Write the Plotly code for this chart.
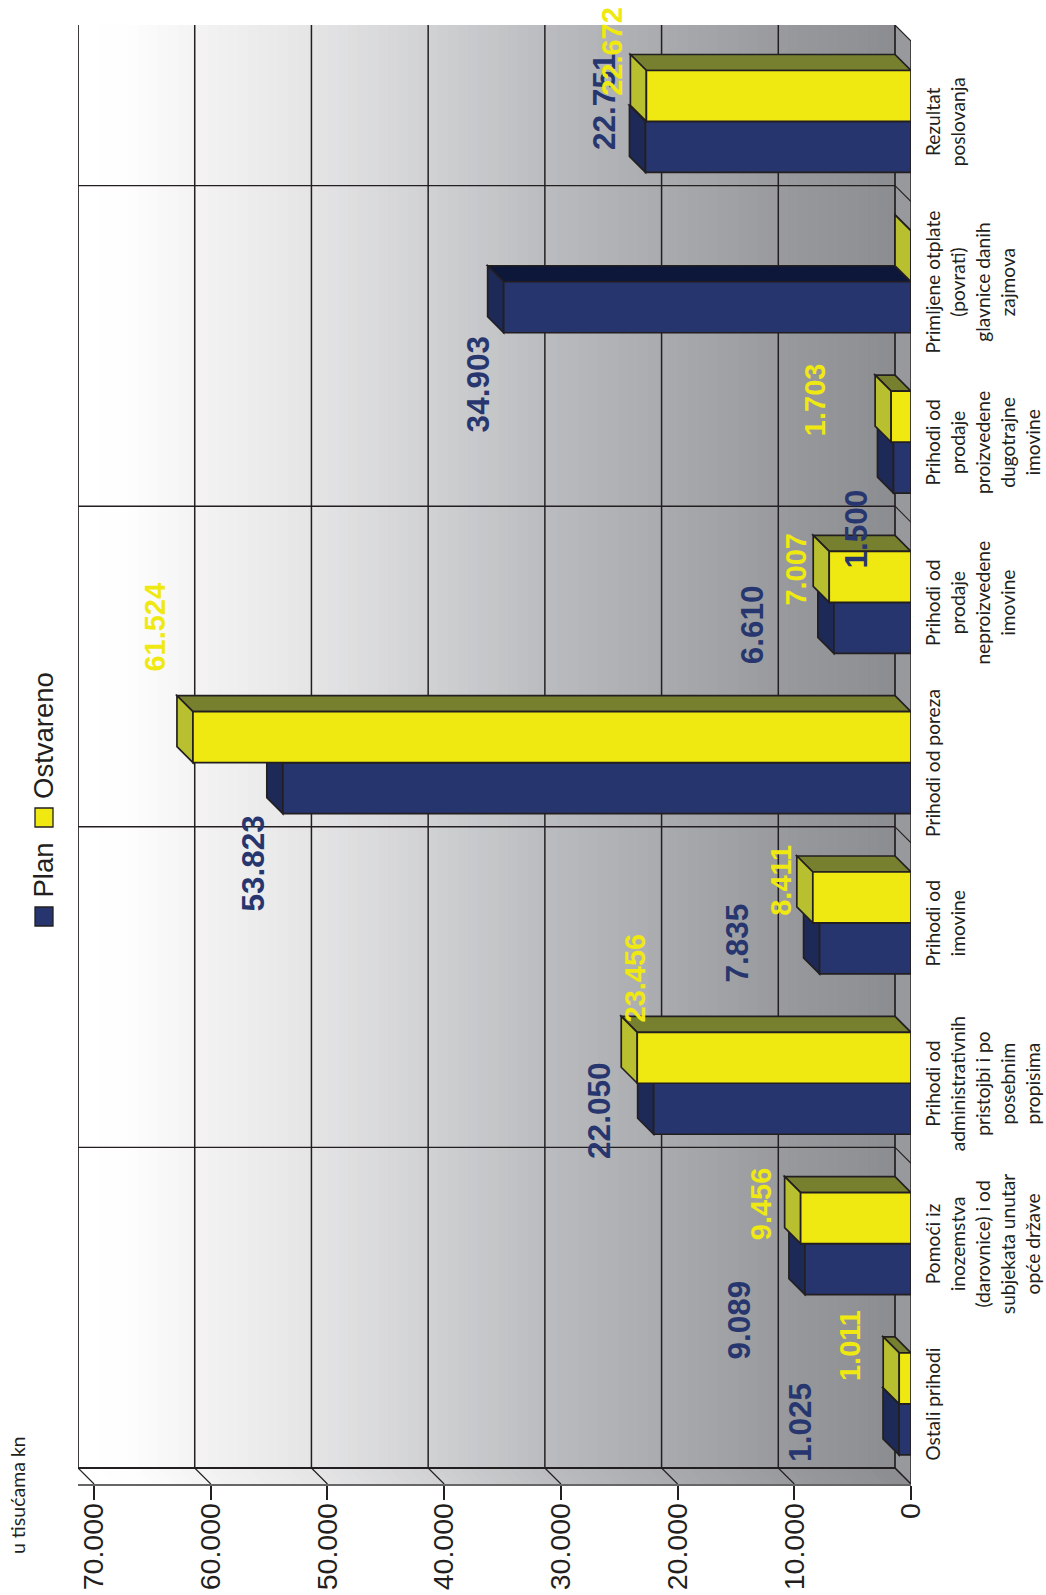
import plotly.graph_objects as go

# ---------- data ----------
categories = [
    "Ostali prihodi",
    "Pomoći iz<br>inozemstva<br>(darovnice) i od<br>subjekata unutar<br>opće države",
    "Prihodi od<br>administrativnih<br>pristojbi i po<br>posebnim<br>propisima",
    "Prihodi od<br>imovine",
    "Prihodi od poreza",
    "Prihodi od<br>prodaje<br>neproizvedene<br>imovine",
    "Prihodi od<br>prodaje<br>proizvedene<br>dugotrajne<br>imovine",
    "Primljene otplate<br>(povrati)<br>glavnice danih<br>zajmova",
    "Rezultat<br>poslovanja",
]
plan = [1025, 9089, 22050, 7835, 53823, 6610, 1500, 34903, 22751]
ostvareno = [1011, 9456, 23456, 8411, 61524, 7007, 1703, 0, 22672]
value_ticks = [0, 10000, 20000, 30000, 40000, 50000, 60000, 70000]

# label offsets from the bar tip, in pixels (labels are hand-placed in the original)
plan_label_dx = [-99, -66, -54, -83, -30, -82, -37, -26, -41]
plan_label_dy = [-19, -76, -28, -20, -101, -22, -87, -103, 20]
ost_label_dx = [-49, -40, -2, -32, -38, -33, -76, None, -34]
ost_label_dy = [58, 40, 105, 43, 136, 33, 42, None, 70]

# ---------- geometry / style ----------
W, H = 1046, 1595
L, R, T, B = 78, 911, 25, 1484
X_MAX = 71373
Y_MIN, Y_MAX = -0.5, 8.6017
DX, DY = 1371, 0.0998
BAR_H = 0.318
INK = "#231f20"
BLUE, BLUE_SIDE, BLUE_TOP = "#26356d", "#1d2a58", "#0c1739"
YEL, YEL_SIDE, YEL_TOP = "#efe911", "#b9c02f", "#76802f"

grad_px = [78, 125, 200, 311, 432, 550, 668, 787, 895]
grad_col = ["#ffffff", "#fefefe", "#f3f3f4", "#e5e5e6", "#d0d1d3", "#babbbe", "#a9aaad", "#98999c", "#8c8d90"]


def hex2rgb(c):
    return tuple(int(c[i:i + 2], 16) for i in (1, 3, 5))


def grad(p):
    for i in range(len(grad_px) - 1):
        if p <= grad_px[i + 1]:
            t = (p - grad_px[i]) / (grad_px[i + 1] - grad_px[i])
            a, b = hex2rgb(grad_col[i]), hex2rgb(grad_col[i + 1])
            return "rgb(%d,%d,%d)" % tuple(round(a[k] + (b[k] - a[k]) * t) for k in range(3))
    return grad_col[-1]


def poly(pts, fill, lw=1.7, layer="between", line=INK):
    d = "M " + " L ".join(f"{x},{y}" for x, y in pts) + " Z"
    return dict(type="path", path=d, xref="x", yref="y", fillcolor=fill, layer=layer,
                line=dict(color=line, width=lw))


def seg(x0, y0, x1, y1, lw=1.3, color=INK):
    return dict(type="line", x0=x0, y0=y0, x1=x1, y1=y1, xref="x", yref="y", layer="below",
                line=dict(color=color, width=lw))


def paper_x(p):
    return (p - L) / (R - L)


def paper_y(p):
    return (B - p) / (B - T)


shapes = []
# wall and floor gradient, painted left to right with overlap
PX_PER_V = (R - L) / X_MAX
for s in range(84):
    p = 78 + s * 10
    if p >= 895:
        break
    wall_v = (895 - p) / PX_PER_V
    c = grad(p + 5)
    shapes.append(dict(type="rect", x0=wall_v + DX, x1=DX, y0=Y_MIN + DY, y1=Y_MAX, xref="x", yref="y",
                       layer="below", fillcolor=c, line=dict(width=0)))
    shapes.append(dict(type="path",
                       path=f"M {wall_v + DX},{Y_MIN + DY} L {DX},{Y_MIN + DY} L 0,{Y_MIN} L {wall_v},{Y_MIN} Z",
                       xref="x", yref="y", layer="below", fillcolor=c, line=dict(width=0)))
# side wall
shapes.append(poly([(0, Y_MIN), (DX, Y_MIN + DY), (DX, Y_MAX), (0, Y_MAX - DY)], "#98999c", lw=0, layer="below"))

# grid
for v in value_ticks:
    shapes.append(seg(v + DX, Y_MIN + DY, v + DX, Y_MAX, 1.7 if v in (0, 70000) else 1.5))
    shapes.append(seg(v + DX, Y_MIN + DY, v, Y_MIN, 1.2))
for k in range(0, 9, 2):
    y = Y_MIN + k
    shapes.append(seg(70000 + DX, y + DY, DX, y + DY, 1.8 if k == 0 else 1.4))
    shapes.append(seg(DX, y + DY, 0, y, 1.1))
shapes.append(seg(DX, Y_MAX, 0, Y_MAX - DY, 1.1))
shapes.append(seg(0, Y_MIN, 0, Y_MAX - DY, 1.4))

# 3D faces of the bars
for i, (p_v, o_v) in enumerate(zip(plan, ostvareno)):
    lo, hi = i - BAR_H, i
    shapes.append(poly([(0, hi), (DX, hi + DY), (p_v + DX, hi + DY), (p_v, hi)], BLUE_TOP))
    shapes.append(poly([(p_v, lo), (p_v + DX, lo + DY), (p_v + DX, hi + DY), (p_v, hi)], BLUE_SIDE))
    lo, hi = i, i + BAR_H
    shapes.append(poly([(0, hi), (DX, hi + DY), (o_v + DX, hi + DY), (o_v, hi)], YEL_TOP))
    shapes.append(poly([(o_v, lo), (o_v + DX, lo + DY), (o_v + DX, hi + DY), (o_v, hi)], YEL_SIDE))

# hand-drawn rotated legend
for top, col in ((907, BLUE), (808, YEL)):
    shapes.append(dict(type="rect", xref="paper", yref="paper", x0=paper_x(35), x1=paper_x(53),
                       y0=paper_y(top + 19), y1=paper_y(top), fillcolor=col, layer="above",
                       line=dict(color=INK, width=1.3)))

fig = go.Figure()
fig.add_bar(name="Plan", y=list(range(9)), x=plan, orientation="h", offset=-BAR_H, width=BAR_H,
            marker=dict(color=BLUE, line=dict(color=INK, width=1.7)))
fig.add_bar(name="Ostvareno", y=list(range(9)), x=ostvareno, orientation="h", offset=0, width=BAR_H,
            marker=dict(color=YEL, line=dict(color=INK, width=1.7)))


def fmt(v):
    return f"{v:,}".replace(",", ".")


ann = []
for i, v in enumerate(plan):
    ann.append(dict(x=v, y=i, xref="x", yref="y", text=fmt(v), showarrow=False, textangle=-90,
                    xanchor="center", yanchor="middle",
                    xshift=plan_label_dx[i], yshift=plan_label_dy[i],
                    font=dict(family="Liberation Sans", size=31.5, color="#27366f", weight="bold")))
for i, v in enumerate(ostvareno):
    if ost_label_dx[i] is None:
        continue
    ann.append(dict(x=v, y=i, xref="x", yref="y", text=fmt(v), showarrow=False, textangle=-90,
                    xanchor="center", yanchor="middle",
                    xshift=ost_label_dx[i], yshift=ost_label_dy[i],
                    font=dict(family="Liberation Sans", size=29, color=YEL, weight="bold")))
for txt, cy in (("Plan", 870.5), ("Ostvareno", 736)):
    ann.append(dict(x=paper_x(43), y=paper_y(cy), xref="paper", yref="paper", text=txt, showarrow=False,
                    textangle=-90, xanchor="center", yanchor="middle",
                    font=dict(family="Liberation Sans", size=27.5, color=INK)))
ann.append(dict(x=paper_x(17), y=paper_y(1495), xref="paper", yref="paper", text="u tisućama kn",
                showarrow=False, textangle=-90, xanchor="center", yanchor="middle",
                font=dict(family="Lato", size=19.5, color=INK)))

fig.update_layout(
    width=W, height=H, margin=dict(l=L, r=W - R, t=T, b=H - B, pad=0, autoexpand=False),
    paper_bgcolor="white", plot_bgcolor="white", showlegend=False, separators=",.",
    barmode="overlay", shapes=shapes, annotations=ann,
    font=dict(family="Liberation Sans", color=INK),
    xaxis=dict(range=[X_MAX, 0], tickvals=value_ticks, tickformat=",d", tickangle=-90, automargin=False,
               ticks="outside", ticklen=14, tickwidth=1.5, tickcolor=INK, showgrid=False, zeroline=False,
               showline=True, linecolor="#666666", linewidth=1.5, ticklabelstandoff=-8,
               tickfont=dict(family="Liberation Sans", size=28.5, color=INK)),
    yaxis=dict(range=[Y_MIN, Y_MAX], tickvals=[i - 0.02 for i in range(9)], ticktext=categories, side="right",
               showgrid=False, zeroline=False, showline=False, ticks="", tickangle=-90, automargin=False,
               ticklabelstandoff=9,
               tickfont=dict(family="Lato", size=19.2, color=INK)),
)
fig.write_html("out.html", config={"displayModeBar": False},
               post_script="document.body.style.margin='0';document.body.style.overflow='hidden';")
